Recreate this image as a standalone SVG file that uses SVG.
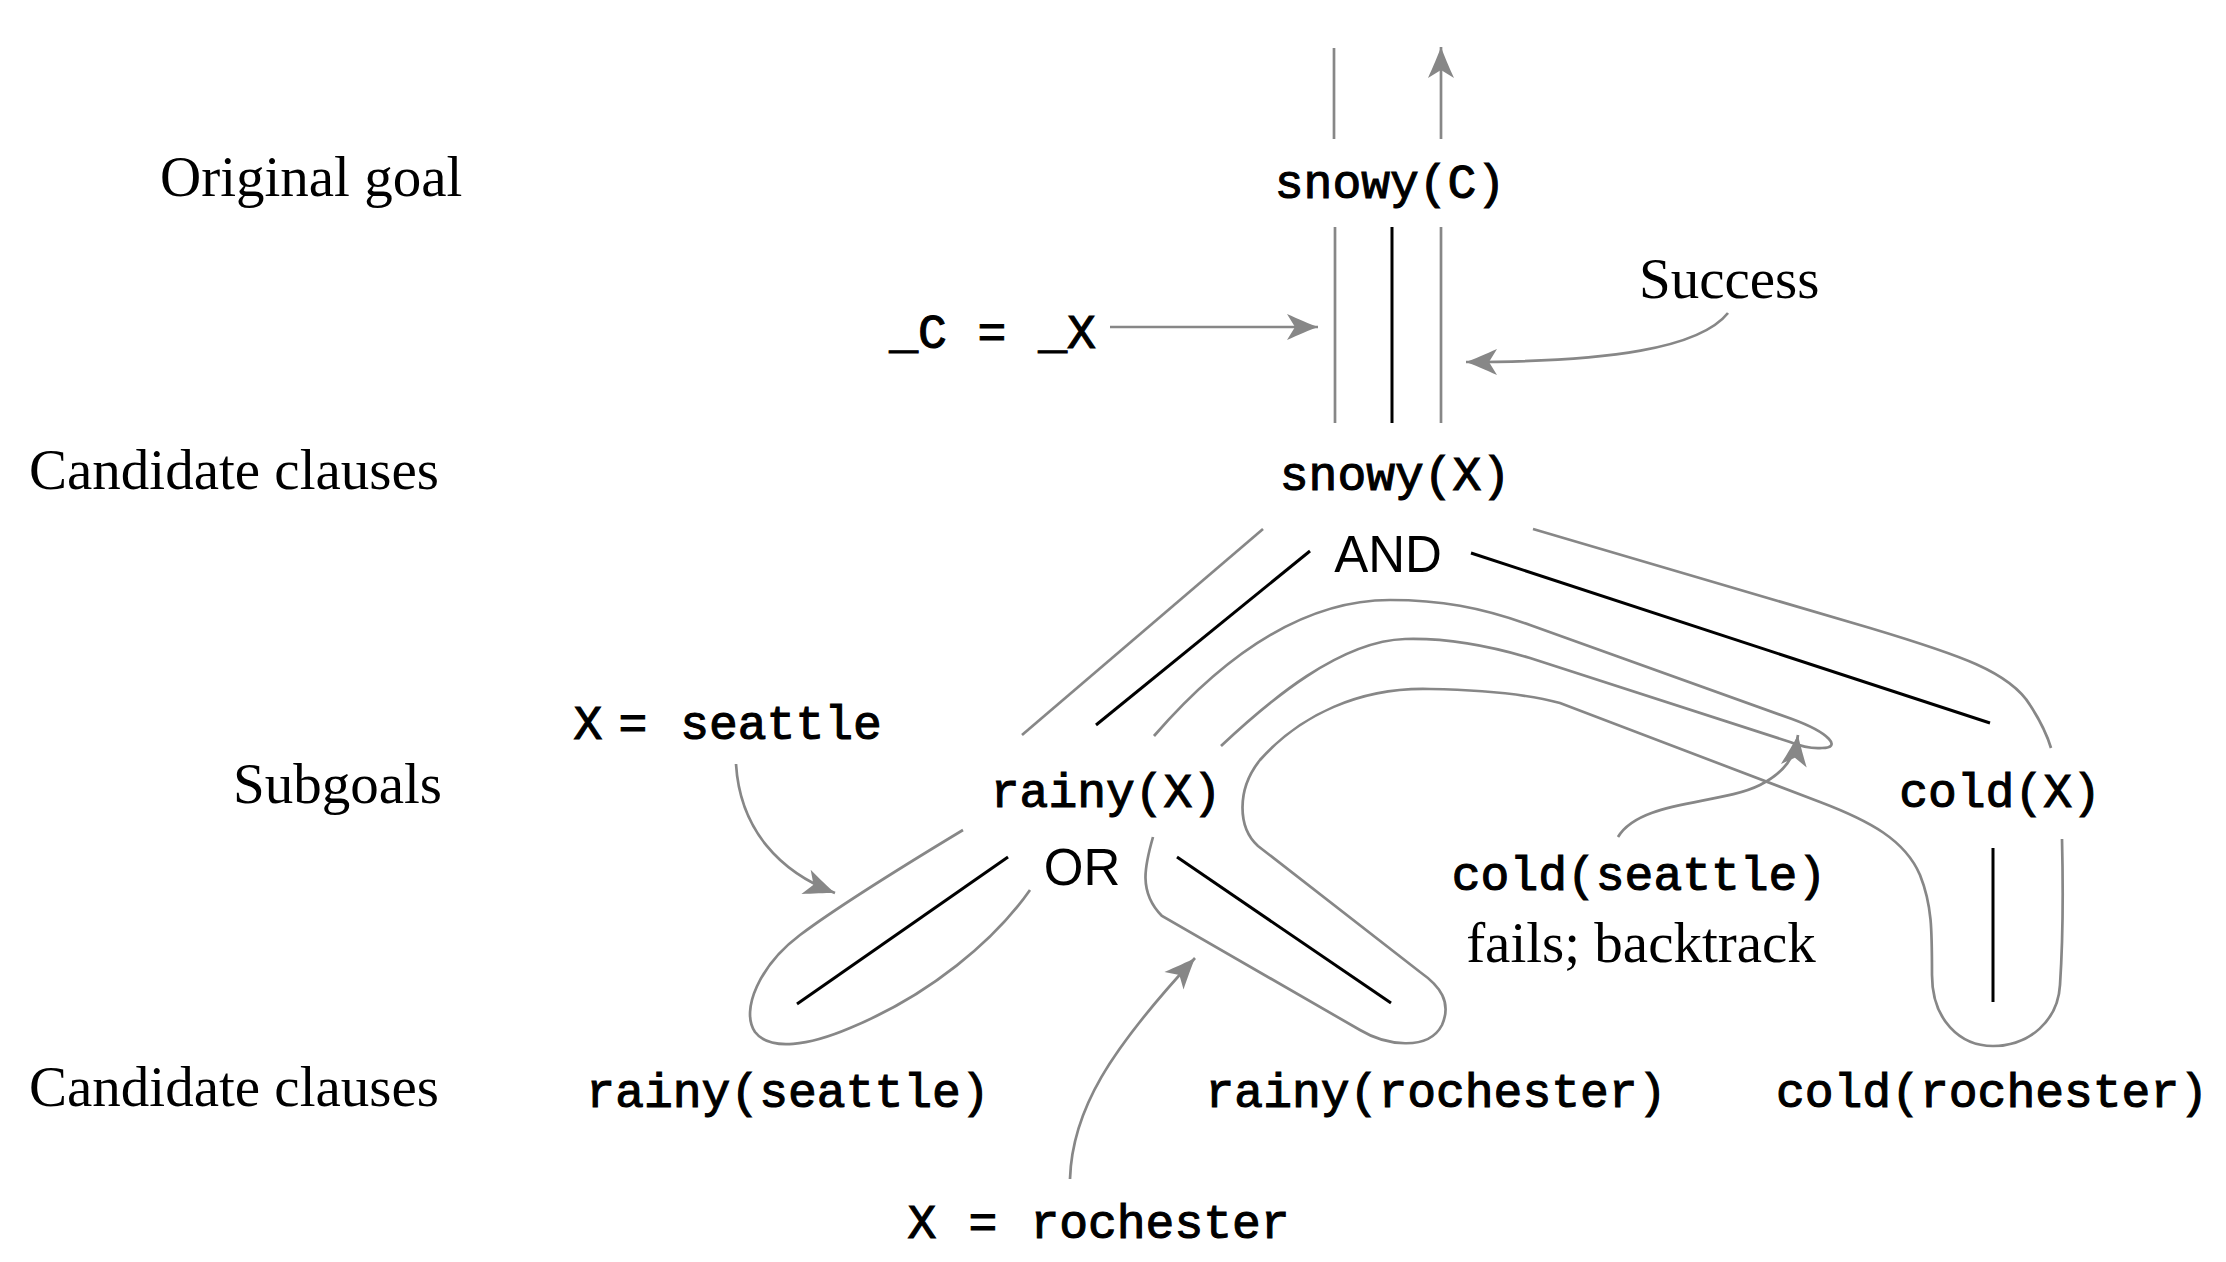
<svg xmlns="http://www.w3.org/2000/svg" width="2226" height="1262" viewBox="0 0 2226 1262">
<style>
.lbl{font-family:"Liberation Serif","Times New Roman",serif;font-size:57px;fill:#000}
.mono{font-family:"Liberation Mono","Courier New",monospace;font-size:48px;fill:#000;stroke:#000;stroke-width:1.1px;text-anchor:middle}
.sans{font-family:"Liberation Sans",Arial,sans-serif;font-size:51px;fill:#000;text-anchor:middle}
.g{fill:none;stroke:#878787;stroke-width:2.7}
.k{fill:none;stroke:#000;stroke-width:3}
.arr{marker-end:url(#ah)}
</style>
<defs>
<marker id="ah" markerUnits="userSpaceOnUse" markerWidth="40" markerHeight="32" viewBox="-33 -16 35 32" refX="0" refY="0" orient="auto" overflow="visible">
<path d="M0,0 C-8,-3 -20,-8 -31,-13 L-23,0 L-31,13 C-20,8 -8,3 0,0 Z" fill="#878787"/>
</marker>
</defs>
<rect width="2226" height="1262" fill="#fff"/>

<g id="row-labels">
<text class="lbl" x="160" y="196">Original goal</text>
<text class="lbl" x="29" y="489">Candidate clauses</text>
<text class="lbl" x="233" y="803">Subgoals</text>
<text class="lbl" x="29" y="1106">Candidate clauses</text>
</g>

<g id="connectors">
<line class="g" x1="1334" y1="48" x2="1334" y2="139"/>
<path class="g arr" d="M1441,139 L1441,47"/>
<line class="g" x1="1335" y1="227" x2="1335" y2="423"/>
<line class="k" x1="1392" y1="227" x2="1392" y2="423"/>
<line class="g" x1="1441" y1="227" x2="1441" y2="423"/>
<path class="g arr" d="M1110,327 L1318,327"/>
<path class="g arr" d="M1728,313 C1700,348 1610,362 1466,362"/>
<line class="g" x1="1263" y1="529" x2="1022" y2="735"/>
<line class="k" x1="1310" y1="551" x2="1096" y2="725"/>
<line class="k" x1="1471" y1="553" x2="1990" y2="723"/>
<path class="g" d="M1533,529 L1870,628 C1960,655 2010,672 2030,705 C2043,725 2048,738 2051,748"/>
<path class="g" d="M1154,736 C1220,660 1300,600 1390,600 C1440,600 1480,607 1530,625 L1792,719 C1830,733 1842,748 1822,748 C1810,749 1800,746 1790,742 L1530,658 C1480,643 1440,638 1405,639 C1340,641 1270,700 1221,746"/>
<path class="g" d="M963,830 C900,868 840,905 800,935 C760,965 740,1010 755,1032 C770,1052 810,1045 850,1028 C930,995 995,940 1030,890"/>
<line class="k" x1="797" y1="1004" x2="1008" y2="857"/>
<line class="k" x1="1177" y1="857" x2="1391" y2="1003"/>
<path class="g" d="M1153,837 C1145,865 1138,892 1162,916 L1360,1030 C1385,1045 1428,1052 1442,1025 C1452,1002 1440,986 1420,972 L1258,846 C1238,828 1236,790 1260,760 C1300,715 1360,687 1430,689 C1490,690 1530,695 1560,703 L1820,802 C1870,821 1905,840 1920,875 C1932,905 1932,930 1932,975 C1932,1020 1960,1046 1993,1046 C2030,1046 2058,1020 2060,985 C2063,940 2063,880 2062,839"/>
<line class="k" x1="1993" y1="848" x2="1993" y2="1002"/>
<path class="g arr" d="M736,764 C740,830 780,872 835,893"/>
<path class="g arr" d="M1070,1179 C1072,1110 1110,1050 1195,958"/>
<path class="g arr" d="M1618,837 C1640,800 1720,805 1760,785 C1785,772 1795,757 1798,735"/>
</g>

<g id="node-snowy-C"><text class="mono" x="1390" y="198">snowy(C)</text></g>
<g id="node-snowy-X"><text class="mono" x="1395" y="490">snowy(X)</text></g>
<g id="node-AND"><text class="sans" x="1388" y="572">AND</text></g>
<g id="node-rainy-X"><text class="mono" x="1106" y="807">rainy(X)</text></g>
<g id="node-OR"><text class="sans" x="1082" y="885">OR</text></g>
<g id="node-cold-X"><text class="mono" x="2000" y="807">cold(X)</text></g>
<g id="node-rainy-seattle"><text class="mono" x="788" y="1107">rainy(seattle)</text></g>
<g id="node-rainy-rochester"><text class="mono" x="1436" y="1107">rainy(rochester)</text></g>
<g id="node-cold-rochester"><text class="mono" x="1992" y="1107">cold(rochester)</text></g>

<g id="note-unify">
<text class="mono" x="918" y="348">_C</text>
<text class="mono" x="992" y="348">=</text>
<text class="mono" x="1067" y="348">_X</text>
</g>
<g id="note-success"><text class="lbl" x="1639" y="298" font-size="54">Success</text></g>
<g id="note-seattle">
<text class="mono" x="588" y="739">X</text>
<text class="mono" x="633" y="739">=</text>
<text class="mono" x="781" y="739">seattle</text>
</g>
<g id="note-rochester">
<text class="mono" x="922" y="1238">X</text>
<text class="mono" x="983" y="1238">=</text>
<text class="mono" x="1160" y="1238">rochester</text>
</g>
<g id="note-backtrack">
<text class="mono" x="1639" y="890">cold(seattle)</text>
<text class="lbl" x="1641" y="962" text-anchor="middle">fails; backtrack</text>
</g>
</svg>
